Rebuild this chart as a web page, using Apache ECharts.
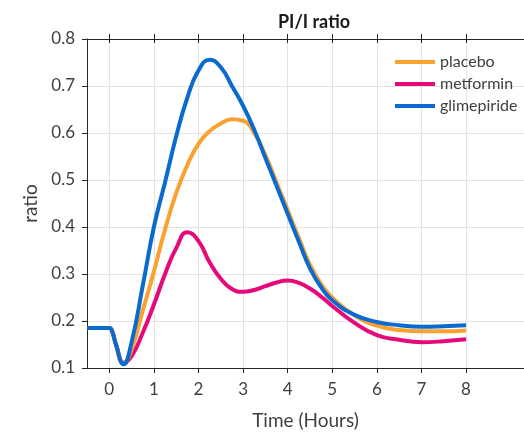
<!DOCTYPE html>
<html>
<head>
<meta charset="utf-8">
<script src="https://cdn.jsdelivr.net/npm/echarts@6/dist/echarts.min.js"></script>
<style>html,body{margin:0;padding:0;background:#fff;}#c{width:524px;height:435px;}</style>
</head>
<body>
<div id="c"></div>
<script>
const time = [-0.5, 0, 0.05, 0.15, 0.32, 0.5, 0.75, 1.0, 1.25, 1.5, 1.75, 2.0, 2.25, 2.5, 2.75, 3.0, 3.25, 3.5, 3.75, 4.0, 4.25, 4.5, 4.75, 5.0, 5.5, 6.0, 6.5, 7.0, 7.5, 8.0];
const placebo = [0.185,0.185,0.182,0.15,0.109,0.14,0.222,0.305,0.395,0.472,0.532,0.577,0.604,0.62,0.629,0.626,0.60,0.553,0.495,0.436,0.377,0.32,0.279,0.25,0.212,0.19,0.181,0.178,0.178,0.18];
const metformin = [0.185,0.185,0.182,0.15,0.111,0.125,0.175,0.235,0.30,0.355,0.389,0.37,0.325,0.29,0.268,0.262,0.266,0.274,0.282,0.286,0.281,0.269,0.252,0.232,0.196,0.17,0.16,0.155,0.157,0.161];
const glimepiride = [0.185,0.185,0.182,0.15,0.108,0.155,0.275,0.40,0.495,0.593,0.675,0.733,0.756,0.74,0.70,0.658,0.607,0.547,0.488,0.428,0.369,0.312,0.272,0.244,0.213,0.198,0.191,0.188,0.189,0.191];
const xTicks = [0,1,2,3,4,5,6,7,8];
const seriesNames = ['placebo','metformin','glimepiride'];
const colors = {placebo:'#F9A232', metformin:'#E6097A', glimepiride:'#0A6ACF'};

const pairs = arr => time.map((t,i)=>[t, arr[i]]);
const font = 'Lato, "Open Sans", sans-serif';
const txt = '#404040';
const axisCol = '#262626';

function mk(name, arr){
  return {name, type:'line', data:pairs(arr), smooth:0.5, showSymbol:false, symbol:'none',
    lineStyle:{width:4, color:colors[name]}, itemStyle:{color:colors[name]}};
}

const chart = echarts.init(document.getElementById('c'), null, {renderer:'canvas'});
chart.setOption({
  animation:false,
  backgroundColor:'#fff',
  title:{text:'PI/I ratio', left:309, top:8, textAlign:'center',
    textStyle:{fontFamily:font, fontWeight:'bold', fontSize:18, color:'#1a1a1a'}},
  legend:{data:seriesNames, orient:'vertical', left:390, top:49, itemWidth:40, itemHeight:4,
    itemGap:6, icon:'rect', textStyle:{fontFamily:font, fontSize:16, color:txt}},
  grid:{left:87, top:39, right:0, bottom:62},
  xAxis:[
    {type:'value', min:-0.5, max:9.3, position:'bottom',
      name:'Time (Hours)', nameLocation:'middle', nameGap:43,
      nameTextStyle:{fontFamily:font, fontSize:19, color:txt},
      axisLine:{show:true, lineStyle:{color:axisCol, width:1}},
      axisTick:{show:true, customValues:xTicks, length:5, lineStyle:{color:axisCol}},
      axisLabel:{customValues:xTicks, margin:13, fontFamily:font, fontSize:17, color:txt},
      splitLine:{show:true, lineStyle:{color:'#e3e3e3', width:1}}},
    {type:'value', min:-0.5, max:9.3, position:'top',
      axisLine:{show:true, onZero:false, lineStyle:{color:axisCol, width:1}},
      axisTick:{show:true, customValues:xTicks, length:5, lineStyle:{color:axisCol}},
      axisLabel:{show:false}, splitLine:{show:false}},
    {type:'value', min:-0.5, max:9.3, position:'top',
      axisLine:{show:false},
      axisTick:{show:true, inside:true, customValues:xTicks, length:4, lineStyle:{color:axisCol}},
      axisLabel:{show:false}, splitLine:{show:false}}
  ],
  yAxis:{type:'value', min:0.1, max:0.8, interval:0.1,
    name:'ratio', nameLocation:'middle', nameGap:47, nameRotate:90,
    nameTextStyle:{fontFamily:font, fontSize:19, color:txt},
    axisLine:{show:true, onZero:false, lineStyle:{color:axisCol, width:1}},
    axisTick:{show:true, length:5, lineStyle:{color:axisCol}},
    axisLabel:{margin:12, fontFamily:font, fontSize:17, color:txt, formatter:v=>v.toFixed(1)},
    splitLine:{show:true, lineStyle:{color:'#e3e3e3', width:1}}},
  series:[mk('metformin', metformin), mk('placebo', placebo), mk('glimepiride', glimepiride)]
});
</script>
</body>
</html>
